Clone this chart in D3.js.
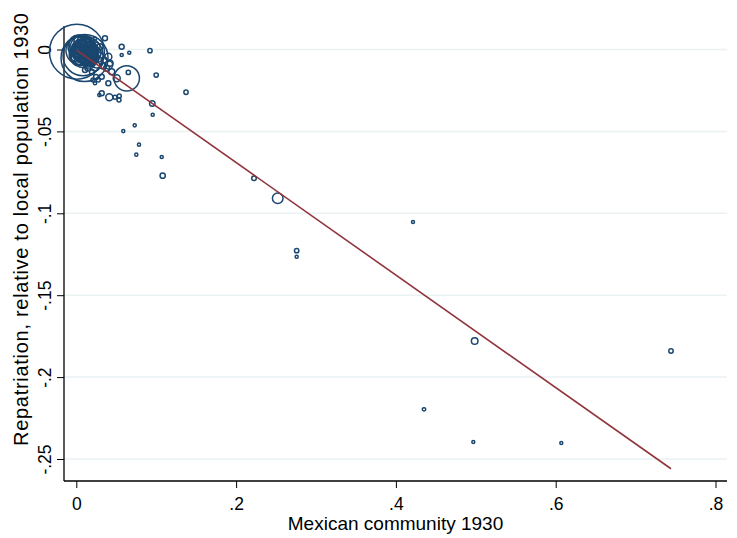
<!DOCTYPE html>
<html><head><meta charset="utf-8">
<script src="https://cdn.jsdelivr.net/npm/d3@7"></script>
<style>
body{margin:0;background:#fff}
svg{display:block}
text{font-family:"Liberation Sans",Arial,sans-serif;fill:#000}
</style>
</head><body><svg id="c" width="737" height="538"></svg>
<script>
// Mexican community share 1930 (x)
const mexShare = [
 0.0008,0.0103,0.0084,0.0046,0.0071,0.0121,0.0021,0.0146,0.0059,0.0171,
 0.0109,0.0196,0.0222,0.0034,0.0259,0.0234,0.0284,0.0159,0.0090,0.0060,
 0.0130,0.0040,0.0100,0.0150,0.0080,0.0030,0.0180,0.0110,0.0070,0.0050,
 0.0140,0.0200,0.0120,0.0090,0.0060,0.0160,0.0025,
 0.0021,0.0046,0.0096,0.0146,0.0196,0.0121,0.0034,0.0084,0.0171,0.0234,
 0.0222,0.0071,0.0134,0.0184,0.0009,0.0109,0.0059,0.0159,0.0259,0.0046,
 0.0359,0.0234,0.0401,0.0422,0.0380,0.0443,0.0318,0.0275,0.0234,0.0401,
 0.0506,0.0318,0.0288,0.0413,0.0484,0.0538,0.0534,0.0568,0.0568,0.0663,
 0.0651,0.0922,0.0631,0.0405,0.0297,0.0334,0.0146,0.0109,0.0196,0.0247,
 0.0209,0.0347,
 0.1000,0.1373,0.0951,0.0956,0.0731,0.0588,0.0785,0.0751,0.1069,0.1081,
 0.2224,0.2521,0.2758,0.2758,0.4214,0.4986,0.7443,0.4352,0.4969,0.6070
];
// Repatriation relative to local population 1930 (y)
const repatriation = [
 -0.0013,-0.0052,-0.0038,-0.0006,0.0009,-0.0015,0.0015,-0.0034,-0.0021,-0.0003,
 0.0027,-0.0052,-0.0021,-0.0052,-0.0076,-0.0101,-0.0046,-0.0082,-0.0010,0.0005,
 -0.0040,-0.0030,0.0010,-0.0060,-0.0060,0.0000,-0.0030,-0.0025,-0.0040,0.0020,
 0.0000,-0.0070,-0.0070,-0.0030,-0.0015,-0.0015,-0.0035,
 0.0034,-0.0040,0.0046,0.0015,-0.0015,-0.0064,-0.0003,-0.0003,0.0040,0.0015,
 -0.0052,0.0021,-0.0021,-0.0046,-0.0034,0.0009,-0.0058,-0.0003,-0.0021,0.0052,
 0.0068,0.0067,-0.0044,-0.0084,-0.0115,-0.0136,-0.0166,-0.0186,-0.0206,-0.0206,
 -0.0176,-0.0267,-0.0278,-0.0292,-0.0292,-0.0284,-0.0308,0.0017,-0.0034,-0.0020,
 -0.0140,-0.0007,-0.0176,-0.0095,0.0017,-0.0101,-0.0113,-0.0125,-0.0137,-0.0168,
 -0.0186,-0.0064,
 -0.0156,-0.0261,-0.0329,-0.0398,-0.0463,-0.0498,-0.0581,-0.0642,-0.0656,-0.0770,
 -0.0786,-0.0908,-0.1228,-0.1265,-0.1053,-0.1780,-0.1841,-0.2197,-0.2396,-0.2402
];
// Local population 1930 (weights, thousands)
const population = [
 5000,3650,2645,1296,952,800,661,661,536,423,
 423,324,324,423,238,165,165,238,750,600,
 500,700,550,400,450,350,300,280,260,200,
 220,150,180,120,100,130,90,
 536,536,324,423,324,238,165,106,165,165,
 165,60,60,106,324,41,106,26,106,238,
 41,17,81,60,60,60,41,26,17,41,
 81,41,17,81,26,26,26,41,16,16,
 30,30,1066,106,60,60,60,41,41,41,
 26,60,
 30,30,50,16,16,16,16,16,16,45,
 35,186,32,16,15,72,32,20,15,15
];
const xTicks = [0, 0.2, 0.4, 0.6, 0.8];
const xTickLabels = ["0", ".2", ".4", ".6", ".8"];
const yTicks = [0, -0.05, -0.1, -0.15, -0.2, -0.25];
const yTickLabels = ["0", "-.05", "-.1", "-.15", "-.2", "-.25"];
const fitIntercept = -0.0003;
const fitSlope = -0.3435;
const xTitle = "Mexican community 1930";
const yTitle = "Repatriation, relative to local population 1930";

const svg = d3.select("#c");
const plot = {left: 64, right: 727, top: 26, bottom: 481};
const x = d3.scaleLinear().domain([0, 0.8]).range([76.3, 715.5]);
const y = d3.scaleLinear().domain([0, -0.25]).range([49.5, 459]);
const r = d3.scaleSqrt().domain([0, d3.max(population)]).range([0, 27.5]);

const navy = "#1a476f", maroon = "#90353b", grid = "#eaf2f3";

// grid
svg.append("g").selectAll("line").data(yTicks).join("line")
  .attr("x1", plot.left).attr("x2", plot.right)
  .attr("y1", d => y(d)).attr("y2", d => y(d))
  .attr("stroke", grid).attr("stroke-width", 1.5);

// axes
const xAxis = d3.axisBottom(x).tickValues(xTicks)
  .tickFormat((d, i) => xTickLabels[i]).tickSize(7).tickSizeOuter(0);
const gx = svg.append("g").attr("transform", `translate(0,${plot.bottom})`).call(xAxis);
gx.select(".domain").remove();
gx.selectAll(".tick line").attr("stroke", "#000").attr("stroke-width", 1);
gx.selectAll(".tick text").attr("font-size", 17.5).attr("dy", null).attr("y", 28.5)
  .attr("font-family", '"Liberation Sans",Arial,sans-serif').attr("fill", "#000");

const yAxis = d3.axisLeft(y).tickValues(yTicks)
  .tickFormat((d, i) => yTickLabels[i]).tickSize(7).tickSizeOuter(0);
const gy = svg.append("g").attr("transform", `translate(${plot.left},0)`).call(yAxis);
gy.select(".domain").remove();
gy.selectAll(".tick line").attr("stroke", "#000").attr("stroke-width", 1);
gy.selectAll(".tick text").attr("font-size", 17.5)
  .attr("font-family", '"Liberation Sans",Arial,sans-serif').attr("fill", "#000")
  .attr("x", null).attr("dy", null)
  .attr("text-anchor", "middle")
  .attr("transform", "translate(-13.5,0) rotate(-90)");

svg.append("line").attr("x1", plot.left).attr("x2", plot.right)
  .attr("y1", plot.bottom).attr("y2", plot.bottom).attr("stroke", "#000").attr("stroke-width", 1.3);
svg.append("line").attr("x1", plot.left).attr("x2", plot.left)
  .attr("y1", plot.top).attr("y2", plot.bottom).attr("stroke", "#000").attr("stroke-width", 1.3);

// points
const pts = mexShare.map((v, i) => ({x: v, y: repatriation[i], w: population[i]}));
svg.append("g").selectAll("circle").data(pts).join("circle")
  .attr("cx", d => x(d.x)).attr("cy", d => y(d.y)).attr("r", d => r(d.w))
  .attr("fill", "none").attr("stroke", navy).attr("stroke-width", 1.5);

// fitted line
const xr = d3.extent(mexShare);
svg.append("line")
  .attr("x1", x(xr[0])).attr("y1", y(fitIntercept + fitSlope * xr[0]))
  .attr("x2", x(xr[1])).attr("y2", y(fitIntercept + fitSlope * xr[1]))
  .attr("stroke", maroon).attr("stroke-width", 1.6);

// titles
svg.append("text").attr("x", (plot.left + plot.right) / 2).attr("y", 529.5)
  .attr("text-anchor", "middle").attr("font-size", 19).text(xTitle);
svg.append("text").attr("transform", `translate(28,229.5) rotate(-90)`)
  .attr("text-anchor", "middle").attr("font-size", 20)
  .attr("textLength", 433).attr("lengthAdjust", "spacing").text(yTitle);
</script></body></html>
